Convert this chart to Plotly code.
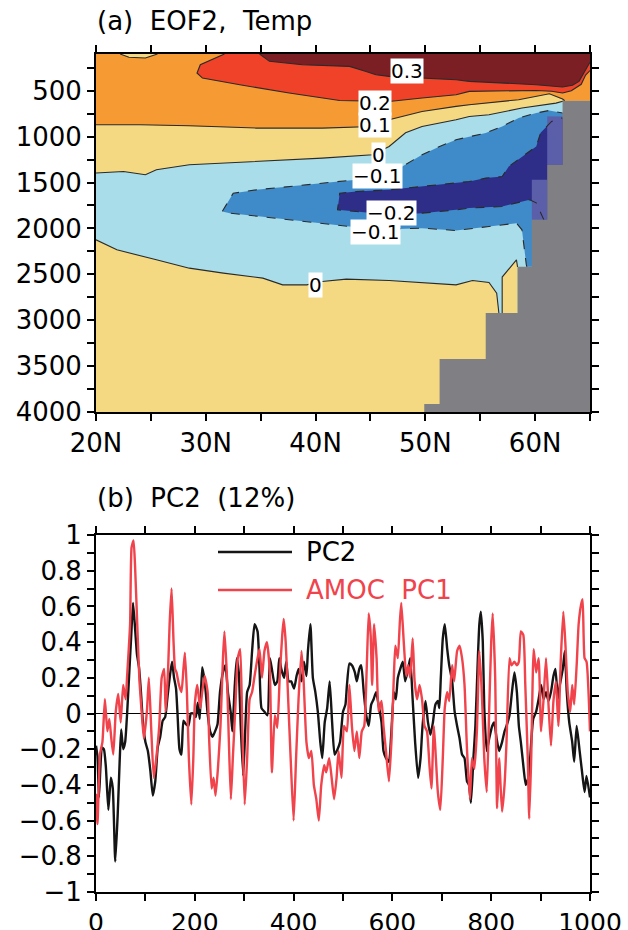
import plotly.graph_objects as go

W, H = 628, 930
FONT = "DejaVu Sans"

# ---------------- panel (a): EOF2 temperature section ----------------
LAT_RANGE = [20, 65]
DEP_RANGE = [4000, 100]
lat_ticks = [20, 30, 40, 50, 60]
lat_labels = ["20N", "30N", "40N", "50N", "60N"]
dep_ticks = [500, 1000, 1500, 2000, 2500, 3000, 3500, 4000]
dep_labels = ["500", "1000", "1500", "2000", "2500", "3000", "3500", "4000"]

# contour 0.3
c03_lat = [34.9, 35.8, 38.8, 43.1, 44.6, 45.5, 46.7, 49.7, 52.8, 54.0, 57.0, 60.1, 62.5, 63.4, 64.0, 64.5, 64.8, 65.0]
c03_dep = [100, 180, 217, 235, 290, 326, 344, 362, 380, 398, 416, 435, 460, 440, 398, 290, 217, 190]
# contour 0.2
c02_lat = [31.7, 29.5, 29.2, 29.7, 33.1, 37.6, 42.2, 46.7, 49.7, 52.8, 54.0, 57.0, 60.1, 61.5, 62.5, 63.3, 64.2, 64.6, 65.0]
c02_dep = [100, 217, 307, 362, 435, 525, 606, 617, 580, 544, 507, 500, 497, 505, 525, 500, 430, 330, 280]
# contour 0.1
c01_lat = [20.0, 24.0, 28.5, 34.6, 40.6, 45.2, 46.7, 49.7, 52.8, 54.0, 58.5, 61.3, 62.5, 62.7]
c01_dep = [871, 871, 882, 907, 907, 889, 816, 726, 671, 653, 598, 533, 590, 609]
# small 0.1 lens at the top-left
lens_lat = [22.2, 23.0, 24.5, 25.6]
lens_dep = [100, 135, 144, 100]
# contour 0 (upper branch)
c00u_lat = [20.0, 22.5, 24.5, 25.5, 28.5, 34.6, 40.6, 45.2, 46.7, 48.2, 49.7, 52.8, 54.0, 55.8, 58.8, 61.9, 62.6]
c00u_dep = [1397, 1380, 1416, 1361, 1307, 1271, 1234, 1198, 1107, 958, 889, 816, 780, 762, 689, 635, 612]
# contour 0 (lower branch)
c00l_lat = [20.0, 21.9, 25.5, 28.5, 31.6, 35.2, 37.0, 39.2, 40.6, 42.8, 46.7, 49.7, 52.8, 54.3, 55.8, 56.5, 56.7]
c00l_dep = [2124, 2233, 2342, 2433, 2487, 2542, 2615, 2615, 2579, 2552, 2567, 2589, 2615, 2567, 2589, 2705, 2921]
# contour 0 (sliver near slope)
c00s_lat = [57.0, 57.0, 58.3, 58.4]
c00s_dep = [2921, 2530, 2342, 2420]
# contour -0.1 (upper and lower branches, meeting at the western tip)
cm01u_lat = [31.5, 32.5, 34.6, 39.2, 43.7, 46.1, 47.9, 49.7, 51.3, 52.8, 54.0, 55.5, 57.0, 58.5, 60.1, 61.3, 62.5]
cm01u_dep = [1816, 1616, 1580, 1525, 1470, 1434, 1325, 1198, 1107, 1034, 998, 961, 889, 798, 743, 715, 743]
cm01l_lat = [31.5, 32.2, 37.6, 43.1, 46.7, 49.7, 52.8, 55.8, 58.3, 58.8, 59.2, 59.25]
cm01l_dep = [1816, 1834, 1907, 1979, 2008, 1997, 2023, 1979, 1943, 2015, 2397, 2419]
# contour -0.2
cm02u_lat = [42.2, 43.7, 46.7, 49.7, 52.8, 54.0, 55.5, 57.0, 57.6, 58.8, 60.1, 60.5, 61.5, 62.5]
cm02u_dep = [1616, 1598, 1580, 1543, 1507, 1489, 1452, 1434, 1325, 1216, 1107, 958, 835, 796]
cm02l_lat = [42.2, 42.0, 43.7, 46.7, 49.7, 52.8, 54.0, 57.0, 59.5, 60.1, 60.5, 60.8]
cm02l_dep = [1616, 1798, 1816, 1852, 1834, 1798, 1779, 1761, 1688, 1721, 1830, 1907]

# bottom topography (staircase) and partial cells
topo_lat = [62.5, 65.0, 65.0, 49.9, 49.9, 51.3, 51.3, 55.5, 55.5, 58.4, 58.4, 59.7, 59.7, 61.1, 61.1, 62.5]
topo_dep = [609, 609, 4000, 4000, 3913, 3913, 3422, 3422, 2921, 2921, 2419, 2419, 1907, 1907, 1307, 1307]
part1_lat = [61.1, 62.5, 62.5, 61.1]
part1_dep = [780, 780, 1307, 1307]
part2_lat = [59.7, 61.1, 61.1, 59.7]
part2_dep = [1470, 1470, 1907, 1907]

# contour labels
lab_text = ["0.3", "0.2", "0.1", "0", "\u22120.1", "\u22120.2", "\u22120.1", "0"]
lab_lat = [48.3, 45.4, 45.4, 45.7, 45.6, 46.9, 45.5, 40.0]
lab_dep = [280, 631, 871, 1198, 1432, 1830, 2037, 2615]

COL = dict(dred="#7b1f25", red="#ef4229", orange="#f69a33", yellow="#f4d982",
           lblue="#a8dde9", mblue="#3f8bc9", navy="#2e2d88", part="#5b5fa9", land="#808084")

# ---------------- panel (b): time series ----------------
pc2_t = [0, 3, 6, 9, 12, 16, 20, 25, 30, 34, 39, 44, 48, 51, 55, 59, 63, 67, 71, 75, 79, 83, 87, 91, 95,
         100, 105, 110, 115, 120, 125, 130, 135, 140, 145, 150, 154, 158, 162, 165, 169, 173, 177, 182, 187,
         192, 197, 202, 206, 210, 215, 220, 226, 231, 236, 241, 246, 251, 257, 262, 267, 273, 276, 281, 285,
         289, 293, 298, 302, 306, 311, 316, 321, 327, 331, 335, 341, 347, 352, 356, 362, 367, 371, 375, 381,
         385, 390, 395, 401, 406, 410, 416, 421, 426, 429, 434, 439, 444, 449, 454, 458, 463, 468, 473, 478,
         483, 489, 494, 500, 505, 508, 513, 518, 524, 528, 533, 537, 542, 547, 552, 557, 562, 567, 572, 578,
         582, 587, 593, 598, 603, 607, 611, 616, 621, 626, 632, 636, 641, 646, 652, 657, 661, 667, 672, 677,
         682, 687, 692, 695, 698, 702, 706, 711, 715, 721, 726, 731, 736, 741, 746, 751, 755, 759, 764, 768,
         773, 776, 779, 783, 786, 791, 796, 802, 806, 811, 816, 822, 827, 831, 837, 842, 847, 852, 856, 860,
         865, 870, 876, 881, 885, 891, 896, 901, 906, 911, 916, 921, 926, 930, 935, 939, 945, 949, 953, 958,
         964, 968, 973, 979, 984, 989, 993, 1000]
pc2_v = [-0.18, -0.24, -0.47, -0.30, -0.19, -0.20, -0.30, -0.54, -0.36, -0.42, -0.83, -0.56, -0.26, -0.09, -0.20, -0.16, 0.00, 0.21, 0.42, 0.62, 0.48, 0.33, 0.26, 0.12, -0.05,
         -0.16, -0.21, -0.32, -0.46, -0.38, -0.19, -0.13, -0.04, -0.02, 0.10, 0.22, 0.29, 0.20, 0.14, 0.00, -0.20, -0.23, -0.04, -0.06, -0.07,
         0.00, 0.00, -0.02, 0.06, -0.03, 0.26, 0.18, 0.00, -0.10, -0.13, -0.10, -0.06, 0.12, 0.23, 0.27, 0.12, 0.00, -0.10, 0.16, 0.31,
         0.23, -0.07, -0.35, -0.10, 0.12, 0.16, 0.35, 0.50, 0.46, 0.25, 0.03, 0.01, -0.01, 0.31, 0.25, 0.16, 0.18, 0.31, 0.25, 0.20,
         0.29, 0.18, 0.18, 0.14, 0.21, 0.25, 0.18, 0.29, 0.21, 0.35, 0.50, 0.20, 0.12, 0.01, -0.16, -0.25, -0.05, 0.03, 0.18, -0.05,
         -0.23, -0.20, -0.16, 0.01, 0.05, 0.16, 0.28, 0.27, 0.23, 0.18, 0.25, 0.27, 0.12, -0.01, -0.07, 0.05, 0.08, 0.12, 0.05, -0.05,
         -0.21, -0.25, -0.27, -0.10, 0.12, 0.08, 0.20, 0.25, 0.29, 0.18, 0.25, 0.31, 0.08, -0.16, -0.36, -0.25, -0.07, 0.07, -0.05, -0.12,
         -0.05, 0.05, 0.07, 0.03, 0.20, 0.42, 0.50, 0.36, 0.27, 0.18, 0.01, -0.07, -0.14, -0.23, -0.25, -0.38, -0.40, -0.50, -0.25, -0.07,
         0.31, 0.50, 0.57, 0.40, 0.03, -0.21, -0.14, -0.07, -0.05, -0.14, -0.21, -0.16, -0.10, -0.07, -0.01, 0.12, 0.23, 0.12, -0.07, -0.16,
         -0.29, -0.40, -0.35, -0.16, -0.03, 0.01, 0.08, 0.16, 0.08, 0.12, 0.07, 0.12, 0.21, 0.25, 0.08, 0.16, 0.25, 0.35, 0.12, -0.05,
         -0.16, -0.27, -0.07, -0.21, -0.33, -0.44, -0.35, -0.47]

amoc_t = [0, 3, 8, 13, 18, 23, 27, 31, 35, 40, 45, 50, 55, 60, 63, 69, 72, 76, 79, 84, 88, 94, 97, 103, 107,
          112, 117, 122, 128, 133, 138, 141, 146, 149, 153, 157, 160, 163, 168, 173, 177, 180, 184, 188, 193,
          197, 200, 205, 211, 215, 220, 226, 229, 234, 238, 242, 247, 252, 257, 260, 265, 269, 273, 277, 282,
          287, 292, 296, 301, 306, 311, 316, 321, 327, 331, 336, 341, 346, 352, 356, 362, 367, 372, 377, 380,
          384, 389, 394, 400, 405, 410, 416, 420, 426, 431, 436, 441, 446, 451, 456, 462, 466, 472, 477, 482,
          487, 491, 497, 502, 508, 513, 518, 523, 528, 533, 538, 543, 548, 552, 556, 559, 563, 568, 572, 578,
          582, 587, 593, 598, 603, 606, 611, 615, 618, 623, 628, 632, 636, 641, 645, 650, 655, 660, 665, 670,
          675, 679, 684, 688, 692, 697, 702, 706, 711, 715, 721, 725, 731, 736, 741, 746, 751, 757, 761, 766,
          771, 776, 781, 786, 791, 796, 800, 803, 808, 812, 816, 822, 827, 831, 837, 841, 847, 852, 856, 860,
          865, 869, 874, 877, 881, 886, 891, 896, 901, 906, 911, 916, 921, 926, 931, 936, 941, 946, 950, 955,
          960, 964, 968, 973, 977, 982, 985, 989, 993, 1000]
amoc_v = [-0.45, -0.62, -0.23, -0.16, 0.08, -0.10, -0.03, -0.14, -0.23, 0.01, 0.11, -0.05, 0.16, 0.08, 0.21, 0.50, 0.93, 0.97, 0.83, 0.46, 0.18, -0.05, -0.14, 0.01, 0.20,
          -0.10, -0.36, -0.25, -0.07, 0.20, 0.25, 0.01, 0.25, 0.50, 0.70, 0.40, 0.25, 0.23, 0.16, 0.12, 0.25, 0.34, 0.12, -0.25, -0.51,
          -0.25, 0.05, 0.16, 0.03, 0.12, 0.21, 0.12, -0.14, -0.42, -0.36, -0.46, -0.30, -0.07, 0.31, 0.46, 0.21, -0.16, -0.48, -0.25, 0.03,
          0.31, 0.36, -0.07, -0.51, -0.25, 0.08, 0.12, 0.21, 0.31, 0.36, 0.20, 0.35, 0.40, 0.23, -0.33, -0.01, -0.08, 0.21, 0.44, 0.53,
          0.40, 0.08, -0.25, -0.60, -0.25, 0.08, 0.35, 0.20, -0.16, -0.25, -0.21, -0.40, -0.48, -0.60, -0.40, -0.29, -0.33, -0.25, -0.36, -0.48,
          -0.36, -0.21, -0.36, -0.07, -0.10, 0.16, -0.07, -0.21, -0.10, -0.25, -0.10, -0.07, 0.25, 0.56, 0.44, 0.16, 0.50, 0.31, 0.01, 0.07,
          -0.07, -0.21, -0.38, -0.16, 0.21, 0.38, 0.31, 0.51, 0.62, 0.40, 0.21, 0.27, 0.20, 0.42, 0.18, 0.08, 0.16, 0.08, -0.07, -0.10,
          -0.29, -0.42, -0.07, -0.25, -0.44, -0.54, -0.25, 0.03, 0.12, 0.07, 0.27, 0.18, 0.35, 0.38, 0.31, 0.16, -0.20, -0.48, -0.25, -0.31,
          -0.10, 0.35, 0.12, -0.25, -0.44, 0.03, 0.40, 0.56, 0.21, -0.53, -0.25, -0.55, -0.40, -0.16, 0.31, 0.27, 0.29, 0.27, 0.29, 0.46,
          0.44, 0.16, -0.25, -0.59, -0.25, 0.36, 0.23, 0.31, -0.10, 0.08, 0.31, 0.05, -0.18, 0.07, 0.18, -0.07, 0.31, 0.57, 0.40, 0.12,
          0.01, 0.16, 0.05, 0.27, 0.50, 0.61, 0.64, 0.31, 0.29, -0.10]

t_ticks = [0, 200, 400, 600, 800, 1000]
v_ticks = [1, 0.8, 0.6, 0.4, 0.2, 0, -0.2, -0.4, -0.6, -0.8, -1]
v_labels = ["1", "0.8", "0.6", "0.4", "0.2", "0", "\u22120.2", "\u22120.4", "\u22120.6", "\u22120.8", "\u22121"]

# ---------------- build figure ----------------
fig = go.Figure()

def poly(lats, deps, color):
    fig.add_trace(go.Scatter(x=lats, y=deps, mode="lines", fill="toself", fillcolor=color,
                             line=dict(width=0, color=color), hoverinfo="skip", showlegend=False,
                             xaxis="x", yaxis="y"))

def cline(lats, deps, dash="solid"):
    fig.add_trace(go.Scatter(x=lats, y=deps, mode="lines", line=dict(color="#2a2a2a", width=1.1, dash=dash),
                             hoverinfo="skip", showlegend=False, xaxis="x", yaxis="y"))

L0, L1 = LAT_RANGE
D1, D0 = DEP_RANGE
poly([L0, L1, L1, L0], [D0, D0, D1, D1], COL["yellow"])
poly([L0, L1, L1] + c01_lat[::-1], [D0, D0, 609] + c01_dep[::-1], COL["orange"])
poly(c02_lat + [L1], c02_dep + [D0], COL["red"])
poly(c03_lat + [L1], c03_dep + [D0], COL["dred"])
poly(lens_lat, lens_dep, COL["yellow"])
poly(c00u_lat + [63.5, 63.5] + c00l_lat[::-1], c00u_dep + [612, 2921] + c00l_dep[::-1], COL["lblue"])
poly(c00s_lat + [58.4], c00s_dep + [2921], COL["yellow"])
poly(cm01u_lat + [63.5, 63.5] + cm01l_lat[::-1], cm01u_dep + [743, 2419] + cm01l_dep[::-1], COL["mblue"])
poly(cm02u_lat + [63.5, 63.5] + cm02l_lat[::-1], cm02u_dep + [796, 1907] + cm02l_dep[::-1], COL["navy"])
poly(part1_lat, part1_dep, COL["part"])
poly(part2_lat, part2_dep, COL["part"])
cline(c03_lat, c03_dep)
cline(c02_lat, c02_dep)
cline(c01_lat, c01_dep)
cline(lens_lat, lens_dep)
cline(c00u_lat, c00u_dep)
cline(c00l_lat, c00l_dep)
cline(c00s_lat, c00s_dep)
cline(cm01l_lat[::-1] + cm01u_lat[1:], cm01l_dep[::-1] + cm01u_dep[1:], dash="dash")
cline(cm02l_lat[::-1] + cm02u_lat[1:], cm02l_dep[::-1] + cm02u_dep[1:], dash="dash")
poly(topo_lat, topo_dep, COL["land"])

for txt, la, de in zip(lab_text, lab_lat, lab_dep):
    fig.add_annotation(x=la, y=de, xref="x", yref="y", text=txt, showarrow=False,
                       bgcolor="white", borderpad=0, font=dict(family=FONT, size=20, color="black"))

fig.add_trace(go.Scatter(x=pc2_t, y=pc2_v, mode="lines", line=dict(color="#151515", width=2.4, shape="spline", smoothing=0.5),
                         showlegend=False, xaxis="x2", yaxis="y2"))
fig.add_trace(go.Scatter(x=amoc_t, y=amoc_v, mode="lines", line=dict(color="#f0434b", width=2.4, shape="spline", smoothing=0.5),
                         showlegend=False, xaxis="x2", yaxis="y2"))


def px2fx(px):
    return px / W


def py2fy(py):
    return 1 - py / H


fig.add_shape(type="line", xref="paper", yref="paper", x0=px2fx(218), x1=px2fx(292), y0=py2fy(552), y1=py2fy(552),
              line=dict(color="#151515", width=2.4))
fig.add_shape(type="line", xref="paper", yref="paper", x0=px2fx(218), x1=px2fx(292), y0=py2fy(590), y1=py2fy(590),
              line=dict(color="#f0434b", width=2.4))
fig.add_annotation(xref="paper", yref="paper", x=px2fx(304), y=py2fy(552), text="PC2", showarrow=False,
                   xanchor="left", yanchor="middle", font=dict(family=FONT, size=26, color="black"))
fig.add_annotation(xref="paper", yref="paper", x=px2fx(304), y=py2fy(590), text="AMOC  PC1", showarrow=False,
                   xanchor="left", yanchor="middle", font=dict(family=FONT, size=26, color="#f0434b"))

fig.add_annotation(xref="paper", yref="paper", x=px2fx(95), y=py2fy(21), text="(a)  EOF2,  Temp", showarrow=False,
                   xanchor="left", yanchor="middle", font=dict(family=FONT, size=26, color="black"))
fig.add_annotation(xref="paper", yref="paper", x=px2fx(95), y=py2fy(498), text="(b)  PC2  (12%)", showarrow=False,
                   xanchor="left", yanchor="middle", font=dict(family=FONT, size=26, color="black"))

axis_common = dict(showline=True, linecolor="black", linewidth=2, mirror="allticks", ticks="outside",
                   ticklen=7, tickwidth=1.5, tickcolor="black", showgrid=False, zeroline=False, automargin=False,
                   tickfont=dict(family=FONT, size=26, color="black"))

fig.update_layout(
    width=W, height=H, margin=dict(l=0, r=0, t=0, b=0),
    paper_bgcolor="white", plot_bgcolor="white", showlegend=False,
    xaxis=dict(domain=[px2fx(96), px2fx(590)], range=LAT_RANGE, anchor="y", tickvals=lat_ticks, ticktext=lat_labels,
               minor=dict(dtick=5, ticks="outside", ticklen=7, tickwidth=1.5, tickcolor="black"), **axis_common),
    yaxis=dict(domain=[py2fy(412), py2fy(54)], range=DEP_RANGE, anchor="x", tickvals=dep_ticks, ticktext=dep_labels,
               minor=dict(dtick=250, tick0=0, ticks="outside", ticklen=7, tickwidth=1.5, tickcolor="black"), **axis_common),
    xaxis2=dict(domain=[px2fx(96), px2fx(590)], range=[0, 1000], anchor="y2", tickvals=t_ticks,
                ticktext=[str(v) for v in t_ticks],
                minor=dict(dtick=100, ticks="outside", ticklen=7, tickwidth=1.5, tickcolor="black"), **axis_common),
    yaxis2=dict(domain=[py2fy(892), py2fy(535)], range=[-1, 1], anchor="x2", tickvals=v_ticks, ticktext=v_labels,
                minor=dict(dtick=0.1, ticks="outside", ticklen=7, tickwidth=1.5, tickcolor="black"), **axis_common),
)
fig.layout.xaxis2.tickfont.size = 25
fig.layout.yaxis2.zeroline = True
fig.layout.yaxis2.zerolinecolor = "black"
fig.layout.yaxis2.zerolinewidth = 1.2

fig.write_html("out.html", config={"displayModeBar": False},
               post_script="document.body.style.margin='0px';document.body.style.overflow='hidden';")
